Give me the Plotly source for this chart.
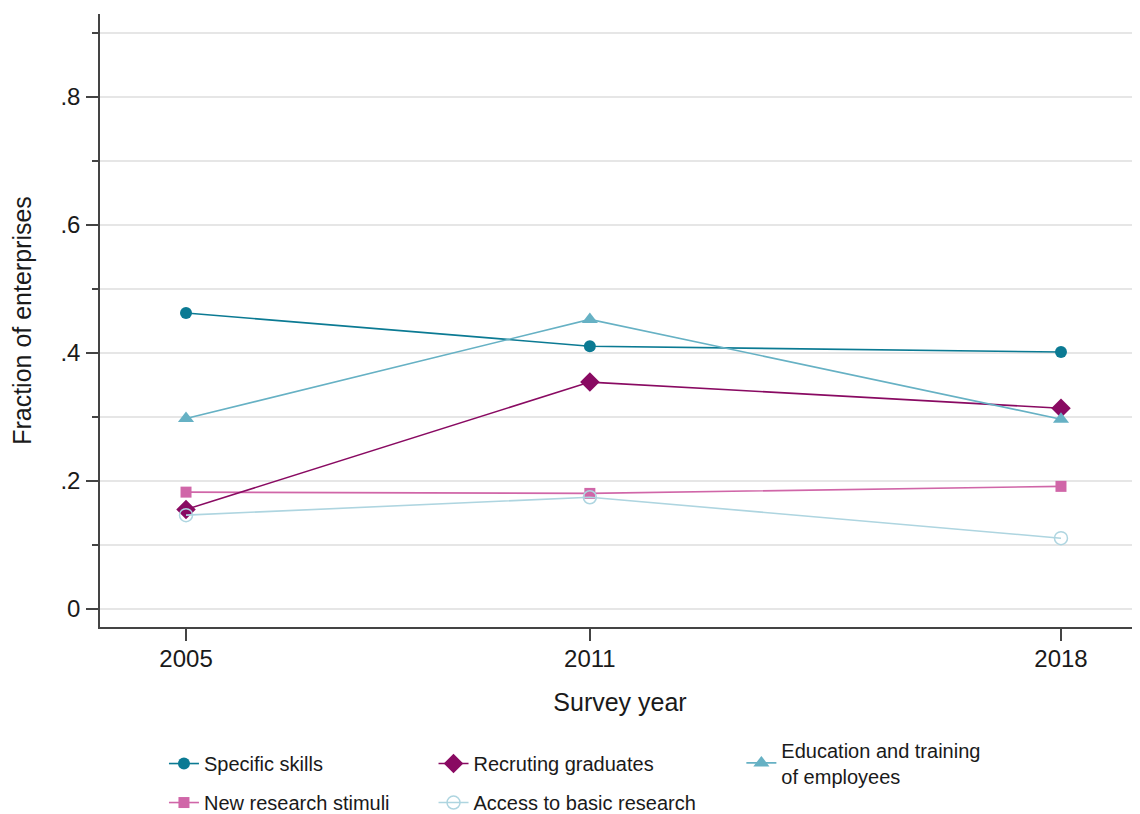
import plotly.graph_objects as go

years = [2005, 2011, 2018]
specific_skills = [0.462, 0.410, 0.401]
recruiting_graduates = [0.155, 0.354, 0.313]
education_training = [0.297, 0.452, 0.296]
new_research = [0.182, 0.180, 0.191]
access_basic = [0.146, 0.174, 0.110]

y_tickvals = [0, 0.2, 0.4, 0.6, 0.8]
y_ticktext = ["0", ".2", ".4", ".6", ".8"]
y_minor = [0.1, 0.3, 0.5, 0.7, 0.9]
x_tickvals = [2005, 2011, 2018]

FONT = "Liberation Sans, Arial, sans-serif"

series = [
    ("Specific skills", specific_skills, "#0b7a93", "circle", 12, "legend"),
    ("New research stimuli", new_research, "#d066a8", "square", 11, "legend"),
    ("Recruting graduates", recruiting_graduates, "#890a62", "diamond", 15, "legend2"),
    ("Access to basic research", access_basic, "#aed5e0", "circle-open", 13, "legend2"),
    ("Education and training<br>of employees", education_training, "#66b1c4", "triangle-up", 14, "legend3"),
]

fig = go.Figure()
for i, (name, vals, color, sym, size, leg) in enumerate(series):
    fig.add_trace(go.Scatter(
        x=years, y=vals, mode="lines+markers", name=name,
        line=dict(color=color, width=1.6),
        marker=dict(color=color, symbol=sym, size=size,
                    line=dict(color=color, width=1.5 if sym == "circle-open" else 0)),
        legend=leg, legendgroup=f"g{i}",
    ))

legend_common = dict(
    orientation="v", xanchor="left", yanchor="top", yref="container",
    font=dict(family=FONT, size=20, color="#1a1a1a"),
    bgcolor="rgba(0,0,0,0)", tracegroupgap=10, itemsizing="trace",
)

fig.update_layout(
    width=1132, height=806,
    margin=dict(l=92, r=0, t=6, b=187, autoexpand=False),
    paper_bgcolor="white", plot_bgcolor="white",
    font=dict(family=FONT, color="#1a1a1a"),
    showlegend=True,
    legend=dict(x=0.0615, y=0.0868, **legend_common),
    legend2=dict(x=0.3207, y=0.0868, **legend_common),
    legend3=dict(x=0.6167, y=0.1037, **legend_common),
    xaxis=dict(
        range=[2003.722, 2019.174],
        tickvals=x_tickvals, ticktext=[str(v) for v in x_tickvals],
        showgrid=False, zeroline=False,
        showline=True, linecolor="#444444", linewidth=1.6,
        ticks="outside", ticklen=12, tickwidth=1.6, tickcolor="#444444",
        ticklabelstandoff=-3,
        tickfont=dict(family=FONT, size=24, color="#1a1a1a"),
        title=dict(text="Survey year", font=dict(family=FONT, size=25, color="#1a1a1a"), standoff=23),
    ),
    yaxis=dict(
        range=[-0.0288, 0.9293],
        tickvals=y_tickvals, ticktext=y_ticktext,
        showgrid=True, gridcolor="#e6e6e6", gridwidth=1.5,
        zeroline=False,
        showline=True, linecolor="#444444", linewidth=1.6,
        ticks="outside", ticklen=12, tickwidth=1.6, tickcolor="#444444",
        ticklabelstandoff=1,
        tickfont=dict(family=FONT, size=24, color="#1a1a1a"),
        minor=dict(tickvals=y_minor, ticks="outside", ticklen=6, tickwidth=1.6,
                   tickcolor="#444444", showgrid=True, gridcolor="#e6e6e6", gridwidth=1.5),
        title=dict(text="Fraction of enterprises", font=dict(family=FONT, size=25, color="#1a1a1a"), standoff=23),
    ),
)

fig.write_html("out.html")
